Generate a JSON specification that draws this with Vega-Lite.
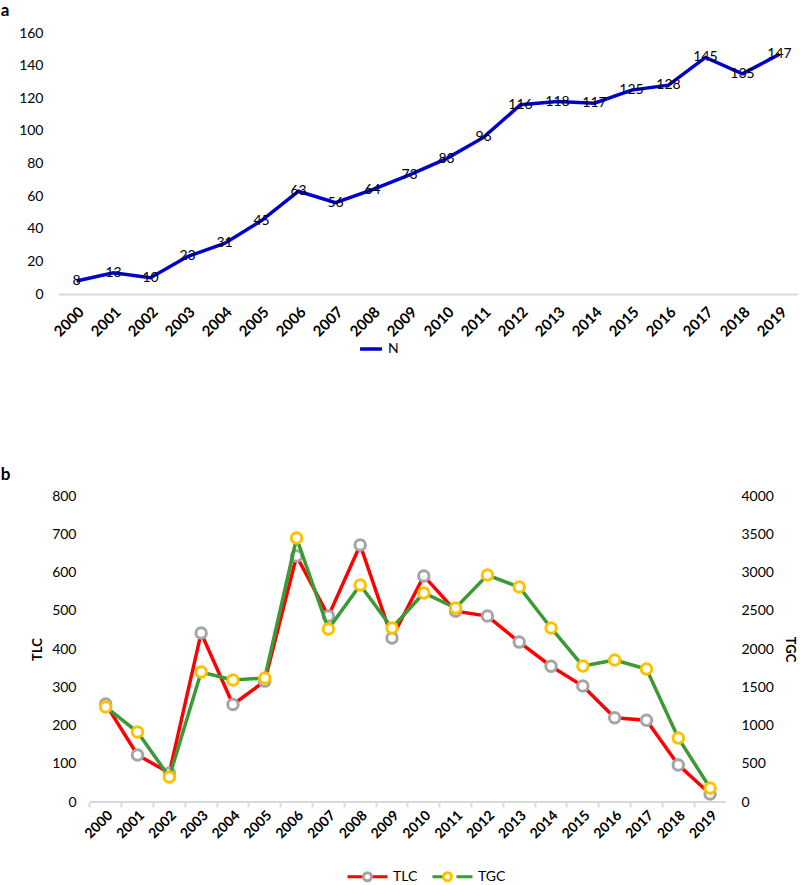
{
  "$schema": "https://vega.github.io/schema/vega-lite/v6.json",
  "padding": {"left": 0, "top": 2, "right": 0, "bottom": 0},
  "background": "white",
  "spacing": 110,
  "resolve": {"scale": {"color": "independent", "stroke": "independent"}, "legend": {"color": "independent", "stroke": "independent"}},
  "config": {
    "font": "Lato",
    "view": {"stroke": null},
    "axis": {"grid": false, "domain": false, "ticks": false, "labelColor": "#000000", "titleColor": "#000000", "labelFontSize": 14},
    "legend": {"labelColor": "#000000", "labelFontSize": 14, "padding": 0}
  },
  "vconcat": [
    {
      "title": {"text": "a", "anchor": "start", "fontSize": 17, "fontWeight": "bold", "offset": 6, "dx": -18, "color": "#000000"},
      "width": 740,
      "height": 261,
      "data": {"values": [
        {"year": "2000", "N": 8}, {"year": "2001", "N": 13}, {"year": "2002", "N": 10}, {"year": "2003", "N": 23},
        {"year": "2004", "N": 31}, {"year": "2005", "N": 45}, {"year": "2006", "N": 63}, {"year": "2007", "N": 56},
        {"year": "2008", "N": 64}, {"year": "2009", "N": 73}, {"year": "2010", "N": 83}, {"year": "2011", "N": 96},
        {"year": "2012", "N": 116}, {"year": "2013", "N": 118}, {"year": "2014", "N": 117}, {"year": "2015", "N": 125},
        {"year": "2016", "N": 128}, {"year": "2017", "N": 145}, {"year": "2018", "N": 135}, {"year": "2019", "N": 147}
      ]},
      "encoding": {
        "x": {"field": "year", "type": "ordinal", "scale": {"type": "band", "paddingInner": 0, "paddingOuter": 0},
          "axis": {"title": null, "labelAngle": -45, "labelFontWeight": "bold", "labelFontSize": 15, "domain": true, "domainColor": "#D9D9D9", "domainWidth": 2, "labelPadding": 10}},
        "y": {"field": "N", "type": "quantitative", "scale": {"domain": [0, 160], "nice": false},
          "axis": {"title": null, "values": [0, 20, 40, 60, 80, 100, 120, 140, 160], "labelPadding": 15, "labelFontSize": 14, "labelOverlap": false}}
      },
      "layer": [
        {
          "mark": {"type": "line", "strokeWidth": 3.5},
          "encoding": {
            "color": {"datum": "N", "type": "nominal", "scale": {"domain": ["N"], "range": ["#0000CC"]},
              "legend": {"title": null, "orient": "none", "legendX": 300, "legendY": 303, "symbolType": "stroke", "symbolStrokeWidth": 3.5, "symbolSize": 480}}
          }
        },
        {
          "mark": {"type": "text", "fontSize": 14, "color": "#000000"},
          "encoding": {"text": {"field": "N", "type": "quantitative"}}
        }
      ]
    },
    {
      "title": {"text": "b", "anchor": "start", "fontSize": 17, "fontWeight": "bold", "offset": 5, "dx": -31, "color": "#000000"},
      "width": 668,
      "height": 306,
      "data": {"values": [
        {"year": "2000", "TLC": 256, "TGC": 1242}, {"year": "2001", "TLC": 123, "TGC": 915},
        {"year": "2002", "TLC": 76, "TGC": 327}, {"year": "2003", "TLC": 442, "TGC": 1699},
        {"year": "2004", "TLC": 255, "TGC": 1595}, {"year": "2005", "TLC": 316, "TGC": 1621},
        {"year": "2006", "TLC": 643, "TGC": 3451}, {"year": "2007", "TLC": 486, "TGC": 2261},
        {"year": "2008", "TLC": 672, "TGC": 2837}, {"year": "2009", "TLC": 429, "TGC": 2275},
        {"year": "2010", "TLC": 591, "TGC": 2732}, {"year": "2011", "TLC": 499, "TGC": 2536},
        {"year": "2012", "TLC": 486, "TGC": 2967}, {"year": "2013", "TLC": 418, "TGC": 2810},
        {"year": "2014", "TLC": 355, "TGC": 2275}, {"year": "2015", "TLC": 303, "TGC": 1778},
        {"year": "2016", "TLC": 220, "TGC": 1856}, {"year": "2017", "TLC": 214, "TGC": 1739},
        {"year": "2018", "TLC": 97, "TGC": 837}, {"year": "2019", "TLC": 21, "TGC": 183}
      ]},
      "encoding": {
        "x": {"field": "year", "type": "ordinal", "scale": {"type": "band", "paddingInner": 0, "paddingOuter": 0.5, "align": 1},
          "axis": {"title": null, "labelAngle": -45, "labelFontWeight": "bold", "labelFontSize": 14, "domain": false,
            "ticks": true, "tickColor": "#D9D9D9", "tickWidth": 2, "tickSize": 5, "bandPosition": 0, "labelPadding": 1}}
      },
      "layer": [
        {
          "encoding": {
            "y": {"field": "TLC", "type": "quantitative", "scale": {"domain": [0, 800], "nice": false},
              "axis": {"title": "TLC", "titleFontWeight": "bold", "titleFontSize": 13, "titlePadding": 7, "values": [0, 100, 200, 300, 400, 500, 600, 700, 800], "labelPadding": -18, "labelOverlap": false}}
          },
          "layer": [
            {
              "mark": {"type": "rect", "fill": null, "stroke": "#D9D9D9", "strokeWidth": 2},
              "encoding": {"y": {"datum": 0}, "y2": {"datum": 0}}
            },
            {
              "mark": {"type": "line", "strokeWidth": 3.5},
              "encoding": {
                "color": {"datum": "TLC", "type": "nominal", "scale": {"domain": ["TLC", "TGC"], "range": ["#FF0000", "#3A9A35"]},
                  "legend": {"title": null, "orient": "none", "legendX": 288, "legendY": 359, "direction": "horizontal", "symbolType": "M-1,0L-0.2,0M0.2,0L1,0", "symbolStrokeWidth": 3, "symbolSize": 1600, "columnPadding": 8}}
              }
            },
            {
              "mark": {"type": "point", "shape": "circle", "filled": false, "fill": "white", "fillOpacity": 1, "opacity": 1, "strokeWidth": 3, "size": 110},
              "encoding": {
                "stroke": {"datum": "TLC_p", "type": "nominal", "scale": {"domain": ["TLC_p", "TGC_p"], "range": ["#A5A5A5", "#FFC000"]},
                  "legend": {"title": null, "orient": "none", "legendX": 288, "legendY": 359, "direction": "horizontal", "symbolType": "M0.2,0A0.2,0.2,0,1,1,-0.2,0A0.2,0.2,0,1,1,0.2,0", "symbolStrokeWidth": 3, "symbolSize": 1600, "symbolFillColor": "white", "columnPadding": 8, "labelOpacity": 0, "labelExpr": "replace(datum.label, '_p', '')"}}
              }
            }
          ]
        },
        {
          "encoding": {
            "y": {"field": "TGC", "type": "quantitative", "scale": {"domain": [0, 4000], "nice": false},
              "axis": {"orient": "right", "title": "TGC", "titleFontWeight": "bold", "titleFontSize": 13, "titlePadding": 9, "format": "d", "values": [0, 500, 1000, 1500, 2000, 2500, 3000, 3500, 4000], "labelPadding": 15, "labelOverlap": false}}
          },
          "layer": [
            {
              "mark": {"type": "line", "strokeWidth": 3.5},
              "encoding": {
                "color": {"datum": "TGC", "type": "nominal"}
              }
            },
            {
              "mark": {"type": "point", "shape": "circle", "filled": false, "fill": "white", "fillOpacity": 1, "opacity": 1, "strokeWidth": 3, "size": 110},
              "encoding": {
                "stroke": {"datum": "TGC_p", "type": "nominal"}
              }
            }
          ]
        }
      ],
      "resolve": {"scale": {"y": "independent"}}
    }
  ]
}
